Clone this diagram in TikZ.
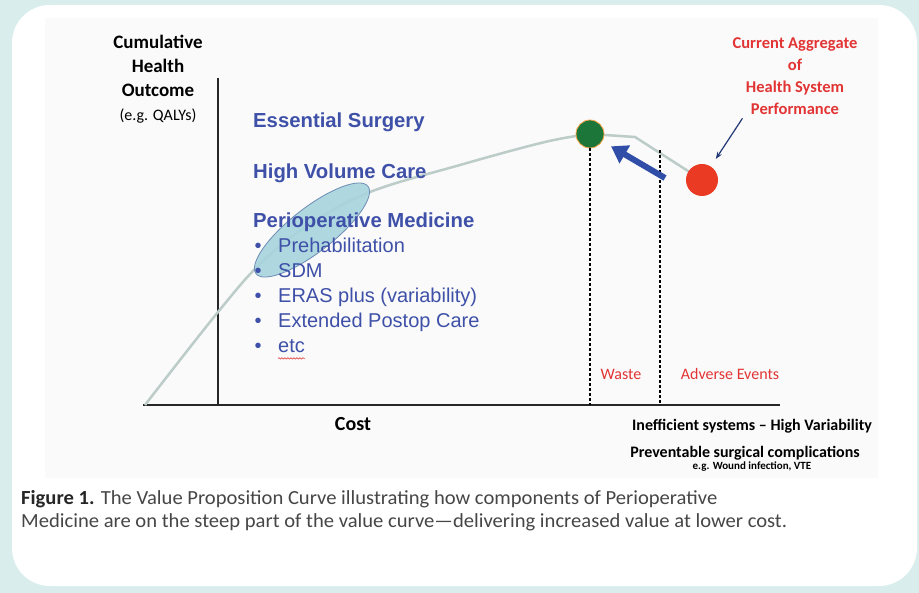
\documentclass[tikz,border=0pt]{standalone}
\usepackage{fontspec}
\setmainfont{Carlito}
\newfontfamily\arialfont{Liberation Sans}
\newfontfamily\capfont[FakeStretch=1.03]{Carlito}
\usetikzlibrary{arrows.meta,shapes.geometric,decorations.pathmorphing}

\definecolor{panelbg}{RGB}{218,237,237}
\definecolor{chartbg}{RGB}{250,250,250}
\definecolor{listblue}{RGB}{62,80,168}
\definecolor{labelred}{RGB}{226,52,52}
\definecolor{curvegray}{RGB}{188,204,200}
\definecolor{ovalfill}{RGB}{166,212,222}
\definecolor{ovaldraw}{RGB}{110,140,180}
\definecolor{dotgreen}{RGB}{28,118,58}
\definecolor{dotred}{RGB}{234,58,36}
\definecolor{arrowblue}{RGB}{48,78,168}
\definecolor{captext}{RGB}{70,70,70}

\begin{document}
\begin{tikzpicture}[x=1pt,y=-1pt,
heading/.style={
anchor=base west,
inner sep=0pt,
text=listblue,
font=\arialfont\bfseries\fontsize{20.3}{24}\selectfont
},
item/.style={
anchor=base west,
inner sep=0pt,
text=listblue,
font=\arialfont\fontsize{20}{24}\selectfont
},
redlabel/.style={
inner sep=0pt,
text=labelred,
font=\fontsize{16}{20}\selectfont
},
axislabel/.style={
inner sep=0pt,
text=black,
font=\bfseries\fontsize{16}{20}\selectfont
},
dot/.style={
circle,
inner sep=0pt
},
dotline/.style={
line width=1.4pt,
dash pattern=on 3pt off 2pt
},
caption/.style={
anchor=base west,
inner sep=0pt,
text=captext,
font=\capfont\fontsize{20}{24}\selectfont
}]

\useasboundingbox (0,0) rectangle (919,593);
\fill[panelbg] (0,0) rectangle (919,593);
\fill[white, rounded corners=38pt] (12,5) rectangle (917,586);
\fill[chartbg] (45,18) rectangle (878,478);

% axes
\coordinate (origin) at (218,405);
\coordinate (ytop) at (218,78);
\coordinate (xleft) at (143,405);
\coordinate (xright) at (780,405);
\draw[line width=2pt, black!85] (ytop) -- (origin);
\draw[line width=2pt, black!85] (xleft) -- (xright);

% value curve
\coordinate (peakpt) at (590,134);
\coordinate (currentpt) at (702,180);
\draw[curvegray, line width=2.5pt, line join=round]
  plot[smooth, tension=0.6] coordinates {(145,405) (218,312) (262,262) (310,224) (370,192) (460,165) (545,142) (peakpt)}
  -- (635,137) -- (currentpt);

\node[ellipse, rotate=38, minimum width=142pt, minimum height=44pt, fill=ovalfill, fill opacity=0.9, draw=ovaldraw, line width=0.8pt] (oval) at (312,230) {};

\node[heading] (essential) at (253,128) {Essential Surgery};
\node[heading] (highvol) at (253,179) {High Volume Care};
\node[heading] (periop) at (253,228) {Perioperative Medicine};
\foreach \txt [count=\i] in {Prehabilitation, SDM, ERAS plus (variability), Extended Postop Care, etc} {
  \node[item, anchor=base] (bullet\i) at (258,{228+25*\i}) {\textbullet};
  \node[item] (item\i) at (278,{228+25*\i}) {\txt};
}
\draw[labelred, line width=0.6pt, decorate, decoration={snake, amplitude=0.7pt, segment length=3pt}]
  ([yshift=-5pt]item5.south west) -- ([yshift=-5pt]item5.south east);

\node[axislabel, align=center, anchor=north, font=\bfseries\fontsize{19}{24}\selectfont] (outcome) at (158,35)
  {Cumulative\\Health\\Outcome\\{\mdseries\fontsize{16}{24}\selectfont(e.g. QALYs)}};
\node[axislabel, anchor=base, font=\bfseries\fontsize{20}{24}\selectfont] (cost) at (353,431) {Cost};

% waste and harm
\coordinate (wastetop) at (660,150);
\node[dot, fill=dotgreen, draw=orange!70, line width=0.8pt, minimum size=28pt] (peak) at (peakpt) {};
\node[dot, fill=dotred, minimum size=32pt] (current) at (currentpt) {};
\draw[dotline] (peak.south) -- (peak |- origin);
\draw[dotline] (wastetop) -- (wastetop |- origin);

\coordinate (arrowtail) at (665,178);
\draw[arrowblue, line width=6pt, -{Triangle[length=16pt, width=20pt]}, shorten >=10pt] (arrowtail) -- (peak);

\node[redlabel, align=center, anchor=north, font=\bfseries\fontsize{16.5}{22}\selectfont] (aggregate) at (795,37)
  {Current Aggregate\\of\\Health System\\Performance};
\draw[arrowblue!70!black, line width=1.2pt, -{Stealth[length=7pt]}, shorten >=9pt]
  ([xshift=10pt, yshift=-4pt]aggregate.south west) -- (current);

\node[redlabel, anchor=base] (waste) at (621,380) {Waste};
\node[redlabel, anchor=base] (adverse) at (730,380) {Adverse Events};

\node[axislabel, anchor=base] (ineff) at (752,431) {Inefficient systems – High Variability};
\node[axislabel, anchor=base] (prevent) at (745,458) {Preventable surgical complications};
\node[axislabel, anchor=base, font=\bfseries\fontsize{11}{13}\selectfont] (egnote) at (752,470) {e.g. Wound infection, VTE};

\node[caption] (cap1) at (21,505) {\textbf{\color{black!85}Figure 1.} The Value Proposition Curve illustrating how components of Perioperative};
\node[caption] (cap2) at (21,528) {Medicine are on the steep part of the value curve—delivering increased value at lower cost.};

\end{tikzpicture}
\end{document}
